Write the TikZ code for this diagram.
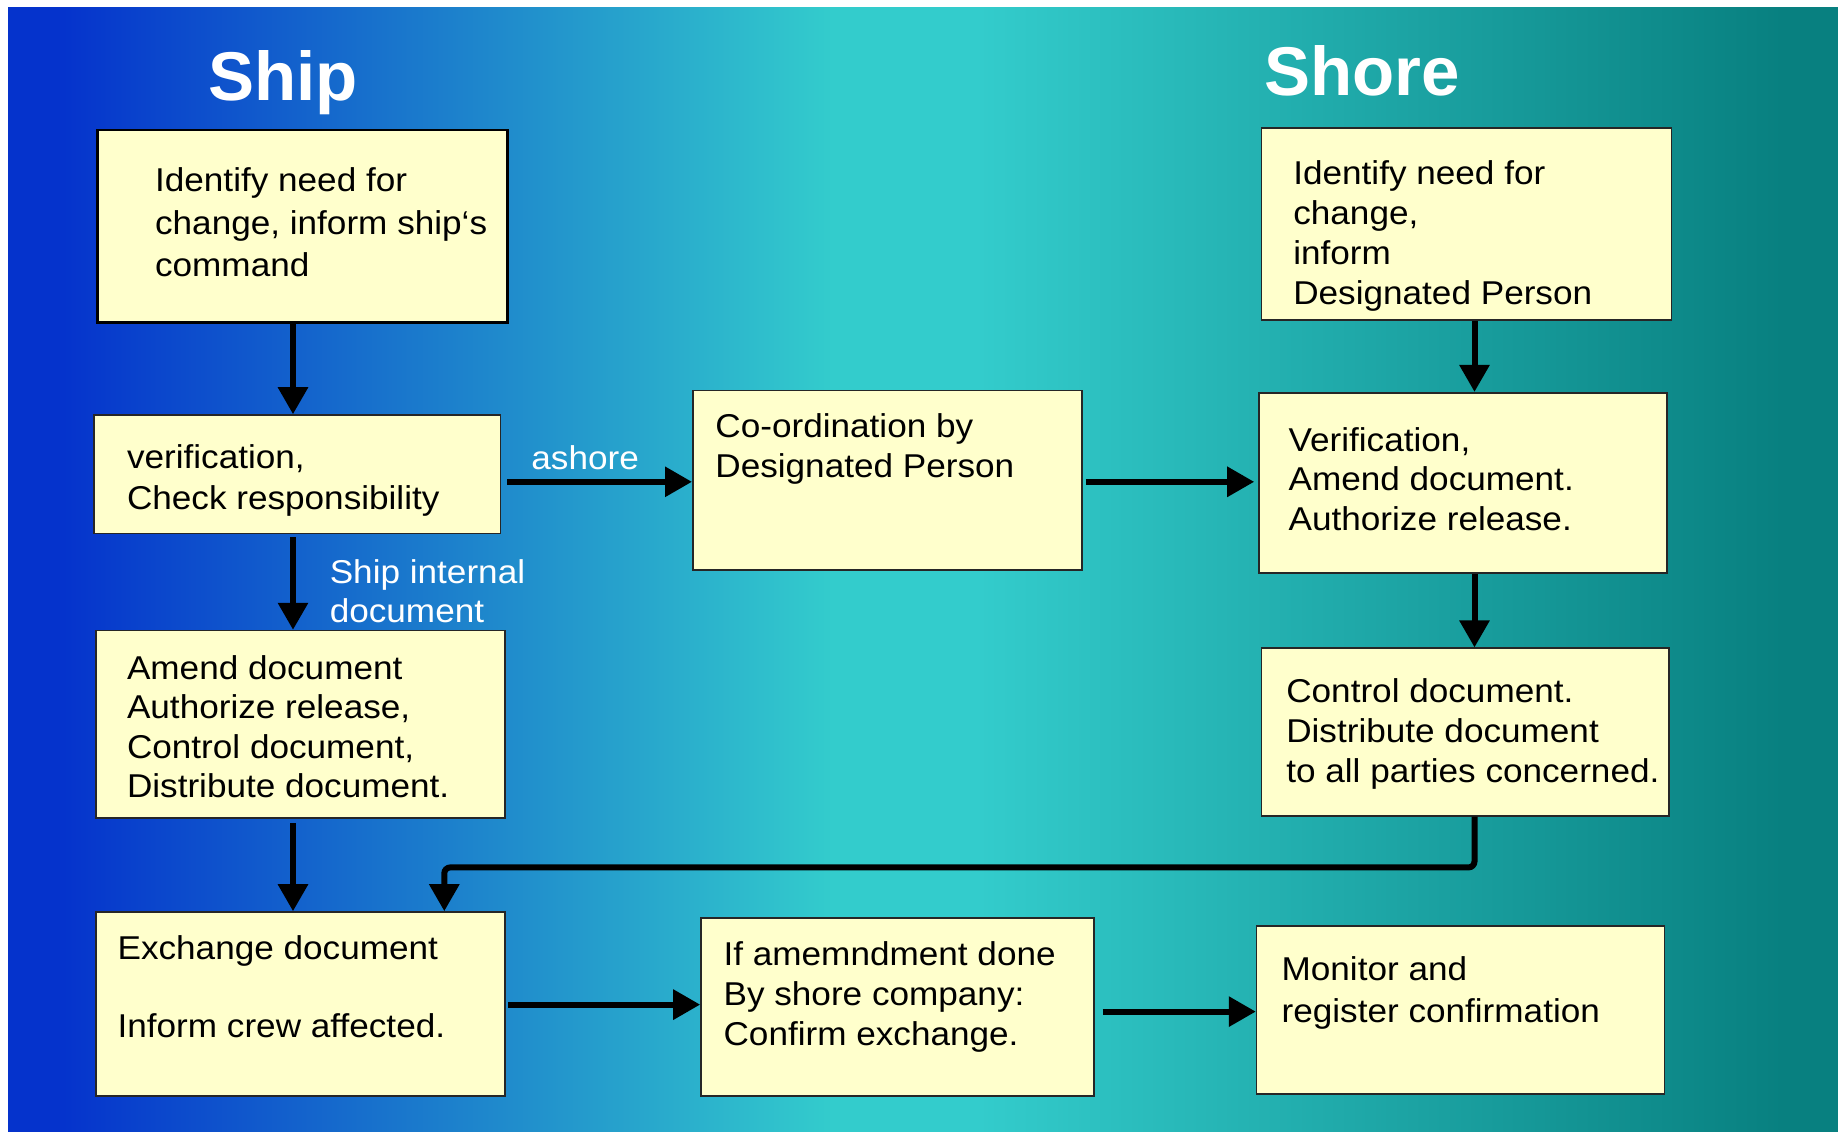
\documentclass[tikz,border=0pt]{standalone}
\usepackage{fontspec}
\setmainfont{Liberation Sans}[FakeStretch=1.065]
\newfontfamily\titlefont{Liberation Sans}
\usetikzlibrary{arrows.meta}
\definecolor{cblue}{RGB}{5,51,204}
\definecolor{ccyan}{RGB}{51,204,204}
\definecolor{cteal}{RGB}{8,128,128}
\definecolor{boxfill}{RGB}{255,255,204}
\pgfdeclarehorizontalshading{bgshade}{100bp}{color(0bp)=(cblue); color(26.5bp)=(cblue); color(47.5bp)=(ccyan); color(51.5bp)=(ccyan); color(73.5bp)=(cteal); color(100bp)=(cteal)}
\begin{document}
\begin{tikzpicture}[x=0.5pt,y=-0.5pt,
  box/.style 2 args={draw=black!85, line width=0.8pt, fill=boxfill, inner sep=0pt,
    minimum width=#1*0.5pt, minimum height=#2*0.5pt},
  txt/.style={anchor=north west, inner sep=0pt, align=left, text=black,
    font=\fontsize{16.5pt}{#1}\selectfont},
  lbl/.style={anchor=north west, inner sep=0pt, align=left, text=white,
    font=\fontsize{16.5pt}{19.5pt}\selectfont},
  title/.style={anchor=base west, inner sep=0pt, text=white,
    font=\titlefont\bfseries\fontsize{34.5pt}{40pt}\selectfont},
  arr/.style={line width=3pt, -{Triangle[length=13.5pt,width=14.5pt]}}
]
\useasboundingbox (0,0) rectangle (1838,1132);
\fill[white] (0,0) rectangle (1838,1132);
\shade[shading=bgshade] (8,7) rectangle (1838,1131);

% titles
\node[title] (tship) at (208,100) {Ship};
\node[title] (tshore) at (1264,95) {Shore};

% boxes
\node[box={410.3}{192.3}, line width=1.3pt, draw=black] (B1) at (302.45,226.25) {};
\node[box={406.7}{118.4}] (B2) at (297.15,474.2) {};
\node[box={409.1}{187.6}] (B3) at (300.65,724.4) {};
\node[box={409.1}{184}] (B4) at (300.65,1004) {};
\node[box={389.2}{179.4}] (C1) at (887.4,480) {};
\node[box={392.7}{178.2}] (C2) at (897.35,1006.9) {};
\node[box={410.3}{192.2}] (S1) at (1466.45,223.9) {};
\node[box={407.9}{180.5}] (S2) at (1462.95,482.95) {};
\node[box={407.9}{167.7}] (S3) at (1465.25,732.05) {};
\node[box={407.9}{167.7}] (S4) at (1460.55,1009.85) {};

% box texts
\node[txt=21.4pt] (T1) at (154.7,167) {Identify need for\\change, inform ship‘s\\command};
\node[txt=20.5pt] (T2) at (126.6,443.7) {verification,\\Check responsibility};
\node[txt=19.75pt] (T3) at (126.6,654.7) {Amend document\\Authorize release,\\Control document,\\Distribute document.};
\node[txt=19.65pt] (T4) at (117.2,934.8) {Exchange document\\[19.65pt]Inform crew affected.};
\node[txt=20pt] (T5) at (715,413.2) {Co-ordination by\\Designated Person};
\node[txt=20pt] (T6) at (723.2,940.7) {If amemndment done\\By shore company:\\Confirm exchange.};
\node[txt=20pt] (T7) at (1292.9,160) {Identify need for\\change,\\inform\\Designated Person};
\node[txt=19.65pt] (T8) at (1288.2,427.3) {Verification,\\Amend document.\\Authorize release.};
\node[txt=20pt] (T9) at (1285.9,678.1) {Control document.\\Distribute document\\to all parties concerned.};
\node[txt=21.1pt] (T10) at (1281.2,955.9) {Monitor and\\register confirmation};

% labels
\node[lbl] (L1) at (531,444.8) {ashore};
\node[lbl] (L2) at (329.4,559) {Ship internal\\document};

% helper coordinates
\coordinate (xA) at (293,0);
\coordinate (xS) at (1474.5,0);
\coordinate (xJ) at (444.3,0);
\coordinate (yJ) at (0,867.4);
\coordinate (yR1) at (0,481.8);
\coordinate (yR2) at (0,1004.6);
\coordinate (yR3) at (0,1011.6);

% connectors
\draw[arr] (B1.south -| xA) -- (B2.north -| xA);
\draw[arr, shorten <=1.5pt] (B2.south -| xA) -- (B3.north -| xA);
\draw[arr, shorten <=2pt] (B3.south -| xA) -- (B4.north -| xA);
\draw[arr, shorten <=3pt] (B2.east |- yR1) -- (C1.west |- yR1);
\draw[arr, shorten <=1.5pt, shorten >=2pt] (C1.east |- yR1) -- (S2.west |- yR1);
\draw[arr] (S1.south -| xS) -- (S2.north -| xS);
\draw[arr] (S2.south -| xS) -- (S3.north -| xS);
\draw[arr, rounded corners=3pt] (S3.south -| xS) -- (xS |- yJ) -- (xJ |- yJ) -- (B4.north -| xJ);
\draw[arr, shorten <=1pt] (B4.east |- yR2) -- (C2.west |- yR2);
\draw[arr, shorten <=4pt] (C2.east |- yR3) -- (S4.west |- yR3);
\end{tikzpicture}
\end{document}
